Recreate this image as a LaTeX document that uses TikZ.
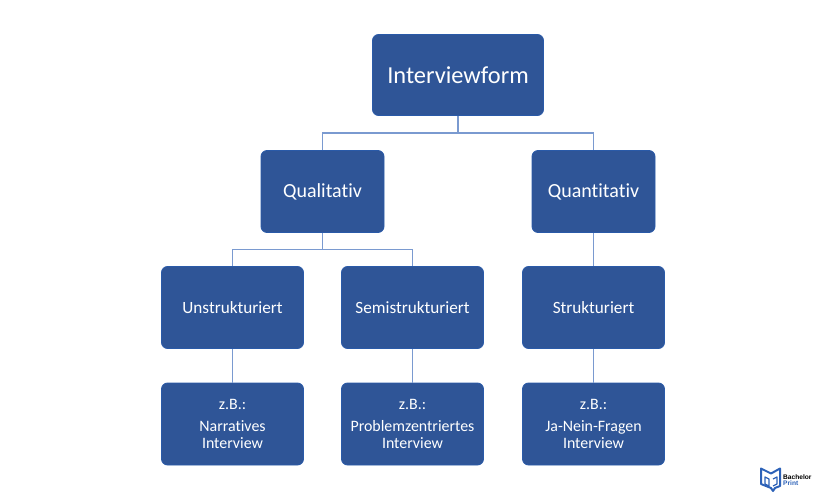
\documentclass[tikz,border=0pt]{standalone}
\usepackage{fontspec}
\setmainfont{Carlito}[Ligatures=NoCommon]
\newfontfamily\logofont{Liberation Sans}
\definecolor{boxfill}{HTML}{2F5597}
\definecolor{boxline}{HTML}{2A5AA8}
\definecolor{conn}{HTML}{7A9AD0}
\definecolor{logoblue}{HTML}{2D62B8}
\tikzset{
  x=1pt,y=-1pt,
  box/.style={draw=boxline,line width=0.8pt,fill=boxfill,rounded corners=6pt,text=white,inner sep=0pt,align=center,anchor=center},
  conline/.style={draw=conn,line width=1.2pt},
  logoline/.style={draw=logoblue,line width=1.6pt,line join=round}
}
\newcommand{\bx}[7]{\node[box,minimum width=#4pt,minimum height=#5pt,font=\fontsize{#6}{#6}\selectfont] (#1) at (#2,#3) {#7};}
\begin{document}
\begin{tikzpicture}
\useasboundingbox (0,0) rectangle (825,500);
\coordinate (bus1) at (458,133);
\coordinate (bus2) at (322.5,249.5);
\bx{root}{458}{75}{171}{81}{24.4}{Interviewform}
\bx{qual}{322.5}{191.5}{123}{82}{20}{Qualitativ}
\bx{quant}{593.5}{191.5}{123}{82}{20}{Quantitativ}
\bx{un}{232.5}{307.5}{142}{82}{17.2}{Unstrukturiert}
\bx{semi}{412.5}{307.5}{142}{82}{17.2}{Semistrukturiert}
\bx{str}{593.5}{307.5}{142}{82}{17.2}{Strukturiert}
\node[box,minimum width=142pt,minimum height=82pt,font=\fontsize{15.9}{17}\selectfont] (ex1) at (232.5,424) {z.B.:\\[5pt]Narratives\\Interview};
\node[box,minimum width=142pt,minimum height=82pt,font=\fontsize{15.9}{17}\selectfont] (ex2) at (412.5,424) {z.B.:\\[5pt]Problemzentriertes\\Interview};
\node[box,minimum width=142pt,minimum height=82pt,font=\fontsize{15.9}{17}\selectfont] (ex3) at (593.5,424) {z.B.:\\[5pt]Ja-Nein-Fragen\\Interview};
\draw[conline] (root.south) -- (bus1);
\draw[conline] (qual.north) |- (bus1) -| (quant.north);
\draw[conline] (qual.south) -- (bus2);
\draw[conline] (un.north) |- (bus2) -| (semi.north);
\draw[conline] (quant.south) -- (str.north);
\draw[conline] (un.south) -- (ex1.north);
\draw[conline] (semi.south) -- (ex2.north);
\draw[conline] (str.south) -- (ex3.north);
% logo
\draw[logoline,line width=2pt] (761,468.5) -- (761,484) -- (771,488) -- (773,491) -- (775,488) -- (780,486) -- (780,468.5) -- (771,473.5) -- cycle;
\draw[logoline,line width=1.2pt] (765,477) -- (769,479) -- (769,486) -- (765,484) -- cycle;
\draw[logoline,line width=1.2pt] (773,479) -- (777,477) -- (777,484) -- (773,486);
\node[anchor=west,inner sep=0pt,font=\logofont\bfseries\fontsize{6.6}{6.6}\selectfont,text=black] (lg1) at (783,477) {Bachelor};
\node[anchor=west,inner sep=0pt,font=\logofont\bfseries\fontsize{6.6}{6.6}\selectfont,text=logoblue] (lg2) at (783,483.5) {Print};
\end{tikzpicture}
\end{document}
